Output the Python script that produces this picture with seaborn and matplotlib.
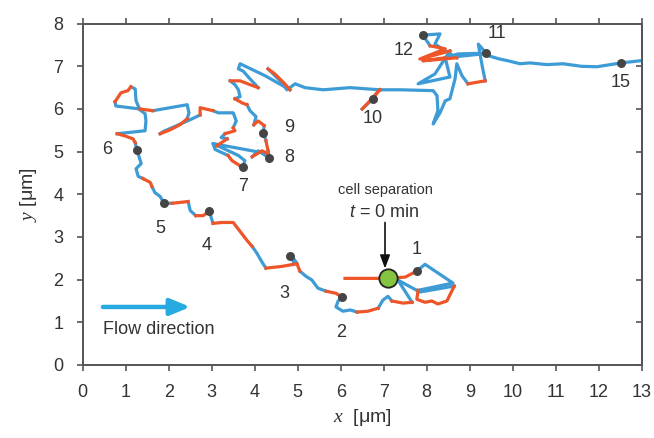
import matplotlib
matplotlib.use("Agg")
import matplotlib.pyplot as plt
import pandas as pd
import seaborn as sns

# cell track in um; track_state is the state of the step ending at each point
# (0 = blue phase, 1 = orange phase)
track_x = [6.10, 7.10, 7.50, 7.77, 7.96, 8.61, 7.80, 7.77, 7.96, 8.12,
           8.26, 8.47, 8.64, 7.84, 7.33, 7.66, 7.45, 7.19, 7.10, 6.98,
           6.87, 6.63, 6.38, 6.22, 6.05, 5.89, 5.94, 6.03, 5.89, 5.66,
           5.47, 5.33, 5.19, 5.05, 4.98, 4.87, 4.91, 4.63, 4.26, 4.17,
           4.05, 3.94, 3.82, 3.66, 3.50, 3.24, 3.03, 2.98, 2.94, 2.80,
           2.63, 2.50, 2.45, 2.26, 2.08, 1.89, 1.80, 1.68, 1.61, 1.57,
           1.40, 1.29, 1.24, 1.36, 1.31, 1.26, 1.22, 1.17, 0.98, 0.80,
           1.45, 1.47, 1.45, 1.33, 1.24, 1.22, 1.12, 1.05, 0.89, 0.75,
           0.77, 1.33, 1.63, 2.03, 2.43, 2.47, 2.43, 2.26, 2.03, 1.80,
           1.87, 2.50, 2.73, 2.73, 3.03, 3.15, 3.50, 3.57, 3.50, 3.54,
           3.31, 3.22, 3.36, 3.12, 3.03, 3.08, 3.38, 3.47, 3.66, 3.73,
           3.77, 3.62, 3.03, 4.31, 4.17, 3.94, 4.08, 4.33, 4.31, 4.26,
           4.20, 4.22, 4.08, 3.98, 4.03, 3.89, 3.82, 3.71, 3.54, 3.66,
           3.62, 3.54, 3.43, 3.66, 3.89, 4.08, 3.98, 3.85, 3.73, 3.62,
           3.66, 4.24, 4.82, 4.68, 4.47, 4.31, 4.59, 4.75, 4.94, 5.17,
           5.59, 6.22, 6.91, 6.68, 6.50, 6.75, 6.84, 6.91, 7.38, 8.15,
           8.24, 8.26, 8.15, 8.31, 8.43, 8.54, 8.66, 8.70, 8.82, 8.96,
           9.36, 9.29, 9.24, 9.20, 9.38, 8.73, 8.43, 7.91, 8.70, 8.19,
           8.31, 7.91, 8.08, 8.43, 7.84, 8.54, 8.19, 7.80, 8.54, 8.43,
           9.29, 9.70, 9.89, 10.17, 10.40, 10.80, 11.17, 11.60, 11.96, 12.52,
           12.96]
track_y = [2.03, 2.03, 2.06, 2.20, 2.36, 1.92, 1.75, 1.54, 1.47, 1.50,
           1.43, 1.50, 1.85, 1.71, 1.99, 1.47, 1.45, 1.50, 1.61, 1.52,
           1.33, 1.26, 1.24, 1.29, 1.26, 1.36, 1.50, 1.59, 1.68, 1.73,
           1.80, 1.99, 2.08, 2.20, 2.38, 2.55, 2.36, 2.31, 2.27, 2.41,
           2.62, 2.78, 2.92, 3.13, 3.34, 3.34, 3.32, 3.48, 3.60, 3.50,
           3.50, 3.62, 3.83, 3.81, 3.79, 3.79, 3.95, 4.04, 4.18, 4.28,
           4.37, 4.42, 4.60, 4.72, 4.88, 5.05, 5.21, 5.30, 5.37, 5.42,
           5.49, 5.72, 5.89, 5.98, 6.19, 6.47, 6.52, 6.43, 6.38, 6.17,
           6.07, 6.00, 5.96, 6.03, 6.10, 5.91, 5.77, 5.63, 5.51, 5.42,
           5.47, 5.75, 5.86, 6.03, 5.96, 5.91, 5.91, 5.72, 5.56, 5.49,
           5.42, 5.33, 5.30, 5.14, 5.19, 5.05, 4.91, 4.79, 4.67, 4.65,
           4.79, 4.91, 5.19, 4.95, 5.02, 4.88, 5.02, 4.86, 5.02, 5.26,
           5.44, 5.61, 5.72, 5.63, 5.82, 5.96, 6.10, 6.14, 6.24, 6.29,
           6.45, 6.57, 6.66, 6.66, 6.57, 6.50, 6.61, 6.75, 6.89, 6.94,
           7.06, 6.78, 6.45, 6.61, 6.82, 6.94, 6.66, 6.45, 6.59, 6.50,
           6.45, 6.50, 6.45, 6.19, 6.00, 6.24, 6.38, 6.45, 6.45, 6.43,
           6.31, 5.96, 5.65, 5.91, 6.19, 6.24, 6.71, 7.06, 6.78, 6.59,
           6.66, 7.01, 7.29, 7.52, 7.31, 7.29, 7.20, 7.13, 7.20, 7.52,
           7.76, 7.73, 7.48, 7.41, 7.17, 7.36, 6.82, 6.59, 6.75, 7.20,
           7.29, 7.17, 7.13, 7.06, 7.08, 7.04, 7.06, 7.00, 6.99, 7.08,
           7.13]
track_state = [1, 1, 1, 1, 0, 0, 0, 1, 1, 1,
               1, 1, 1, 0, 0, 0, 1, 1, 0, 0,
               0, 1, 1, 0, 0, 0, 0, 0, 1, 1,
               0, 0, 0, 0, 1, 0, 0, 1, 1, 0,
               0, 0, 1, 1, 1, 1, 1, 0, 0, 1,
               1, 0, 0, 1, 1, 0, 0, 0, 0, 1,
               1, 0, 0, 0, 0, 0, 0, 1, 1, 1,
               0, 0, 0, 0, 0, 0, 0, 1, 1, 1,
               0, 0, 1, 0, 0, 0, 0, 1, 1, 1,
               0, 0, 0, 1, 1, 0, 0, 0, 0, 1,
               1, 0, 0, 1, 0, 0, 0, 1, 1, 0,
               0, 0, 0, 0, 1, 1, 0, 0, 0, 1,
               0, 0, 1, 1, 0, 0, 0, 1, 1, 0,
               0, 0, 0, 1, 1, 1, 0, 0, 0, 0,
               0, 0, 0, 1, 1, 1, 0, 0, 0, 0,
               0, 0, 0, 1, 1, 0, 1, 1, 0, 0,
               0, 0, 0, 0, 0, 0, 0, 0, 0, 0,
               1, 0, 0, 0, 0, 0, 0, 1, 1, 0,
               0, 0, 0, 1, 1, 1, 0, 0, 0, 0,
               0, 0, 0, 0, 0, 0, 0, 0, 0, 0,
               0]

# time marks (min) along the track
mark_text = ["1", "2", "3", "4", "5", "6", "7", "8", "9", "10", "11", "12", "15"]
mark_x = [7.77, 6.03, 4.82, 2.94, 1.89, 1.26, 3.73, 4.33, 4.20, 6.75, 9.38, 7.91, 12.52]
mark_y = [2.20, 1.59, 2.55, 3.60, 3.79, 5.05, 4.65, 4.86, 5.44, 6.24, 7.31, 7.73, 7.08]
mark_label_x = [7.77, 6.00, 4.70, 2.89, 1.80, 0.57, 3.73, 4.80, 4.80, 6.75, 9.63, 7.47, 12.50]
mark_label_y = [2.71, 0.75, 1.68, 2.80, 3.20, 5.05, 4.18, 4.86, 5.56, 5.77, 7.76, 7.38, 6.61]

sep_x = [7.10]
sep_y = [2.04]

blue = "#3d9bd6"
orange = "#ee5528"
txt = "#333333"
axis_grey = "#555555"

plt.rcParams["mathtext.fontset"] = "custom"
plt.rcParams["mathtext.it"] = "Liberation Serif:italic"
plt.rcParams["mathtext.rm"] = "Liberation Sans"
plt.rcParams["mathtext.sf"] = "Liberation Sans:italic"
plt.rcParams["font.family"] = ["Liberation Sans", "DejaVu Sans"]

# split the track into runs of the same state
runs = []
for i in range(1, len(track_x)):
    if not runs or runs[-1][0] != track_state[i]:
        runs.append((track_state[i], [i - 1]))
    runs[-1][1].append(i)

rows = []
for k, (state, idx) in enumerate(runs):
    for order, p in enumerate(idx):
        rows.append({"run": k, "state": state, "order": order,
                     "x": track_x[p], "y": track_y[p]})
df = pd.DataFrame(rows)

fig = plt.figure(figsize=(6.54, 4.38), dpi=100)
ax = fig.add_axes([0.1265, 0.1667, 0.8547, 0.7793])

sns.lineplot(data=df, x="x", y="y", hue="state", hue_order=[0, 1], units="run",
             estimator=None, sort=False, palette={0: blue, 1: orange},
             linewidth=2.3, legend=False, ax=ax)

sns.scatterplot(x=mark_x, y=mark_y, color="#454545", s=42, linewidth=0,
                zorder=5, ax=ax)
sns.scatterplot(x=sep_x, y=sep_y, color="#85c441", edgecolor="#222222",
                s=175, linewidth=1.3, zorder=6, ax=ax)

for t, lx, ly in zip(mark_text, mark_label_x, mark_label_y):
    ax.text(lx, ly, t, ha="center", va="center", fontsize=13, color=txt)

# flow direction arrow
ax.annotate("", xy=(2.5, 1.36), xytext=(0.47, 1.36),
            arrowprops=dict(arrowstyle="-|>,head_length=1.2,head_width=0.5",
                            color="#27a9e1", lw=3.2, shrinkA=0, shrinkB=0))
ax.text(0.47, 0.82, "Flow direction", ha="left", va="center", fontsize=13, color=txt)

# cell separation
ax.text(7.03, 4.09, "cell separation", ha="center", va="center", fontsize=10.5, color=txt)
ax.text(7.0, 3.57, r"$\mathsf{t}$ = 0 min", ha="center", va="center", fontsize=13, color=txt)
ax.annotate("", xy=(7.03, 2.26), xytext=(7.03, 3.34),
            arrowprops=dict(arrowstyle="-|>,head_length=0.8,head_width=0.3",
                            color="#111111", lw=1.2, shrinkA=0, shrinkB=0))

ax.set_xlim(0, 13)
ax.set_ylim(0, 8)
ax.set_xticks(range(0, 14))
ax.set_yticks(range(0, 9))
ax.set_xlabel(r"$x$  [μm]", fontsize=14, color=txt, labelpad=4)
ax.set_ylabel(r"$y$ [μm]", fontsize=14, color=txt, labelpad=10)

for s in ax.spines.values():
    s.set_color(axis_grey)
    s.set_linewidth(1.4)
ax.tick_params(axis="x", direction="out", length=4, width=1.2, colors=axis_grey,
               labelcolor=txt, labelsize=13, pad=10, top=True)
ax.tick_params(axis="y", direction="out", length=4, width=1.2, colors=axis_grey,
               labelcolor=txt, labelsize=13, pad=10, right=False)

# right-hand ticks point inward
rax = ax.secondary_yaxis("right")
rax.set_yticks(range(0, 9))
rax.tick_params(direction="in", length=4, width=1.2, colors=axis_grey, labelright=False)
rax.spines["right"].set_color(axis_grey)
rax.spines["right"].set_linewidth(1.4)

fig.savefig("out.png", dpi=100)
